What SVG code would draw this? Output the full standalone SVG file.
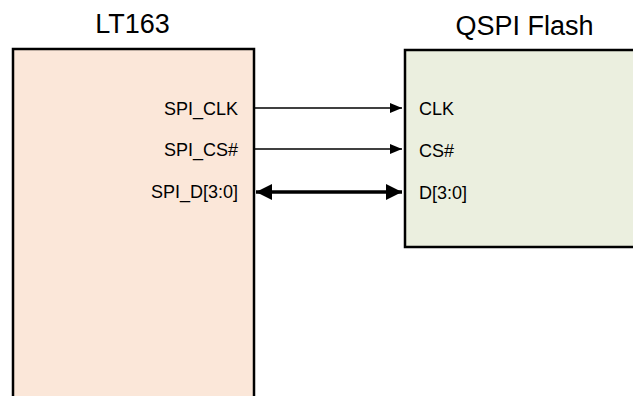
<svg xmlns="http://www.w3.org/2000/svg" width="633" height="396" viewBox="0 0 633 396">
<style>
.title{font-family:"Liberation Sans",Arial,sans-serif;font-size:27px;fill:#000}
.lbl{font-family:"Liberation Sans",Arial,sans-serif;font-size:18px;fill:#000}
.box{stroke:#000;stroke-width:2.5}
.thin{stroke:#000;stroke-width:1.5;fill:none}
.thick{stroke:#000;stroke-width:3.5;fill:none}
</style>
<defs>
<marker id="ah" markerUnits="userSpaceOnUse" markerWidth="13" markerHeight="11" refX="12" refY="5" orient="auto">
<path d="M0,0 L12,5 L0,10 z" fill="#000"/>
</marker>
<marker id="ahb" markerUnits="userSpaceOnUse" markerWidth="17" markerHeight="17" refX="16" refY="8" orient="auto-start-reverse">
<path d="M0,0 L16,8 L0,16 z" fill="#000"/>
</marker>
</defs>
<rect width="633" height="396" fill="#fff"/>
<g id="lt163">
<rect class="box" x="13" y="49" width="241" height="360" fill="#fbe7d9"/>
<text class="title" x="132.5" y="33" text-anchor="middle">LT163</text>
<text class="lbl" x="238" y="115" text-anchor="end">SPI_CLK</text>
<text class="lbl" x="238" y="156" text-anchor="end">SPI_CS#</text>
<text class="lbl" x="238" y="198" text-anchor="end">SPI_D[3:0]</text>
</g>
<g id="qspi">
<rect class="box" x="405" y="50" width="240" height="197" fill="#ebefdf"/>
<text class="title" x="524.5" y="35" text-anchor="middle">QSPI Flash</text>
<text class="lbl" x="419" y="115">CLK</text>
<text class="lbl" x="419" y="157">CS#</text>
<text class="lbl" x="419" y="199">D[3:0]</text>
</g>
<g id="connectors">
<line class="thin" x1="255" y1="108" x2="402" y2="108" marker-end="url(#ah)"/>
<line class="thin" x1="255" y1="149" x2="402" y2="149" marker-end="url(#ah)"/>
<line class="thick" x1="256" y1="192" x2="402" y2="192" marker-start="url(#ahb)" marker-end="url(#ahb)"/>
</g>
</svg>
